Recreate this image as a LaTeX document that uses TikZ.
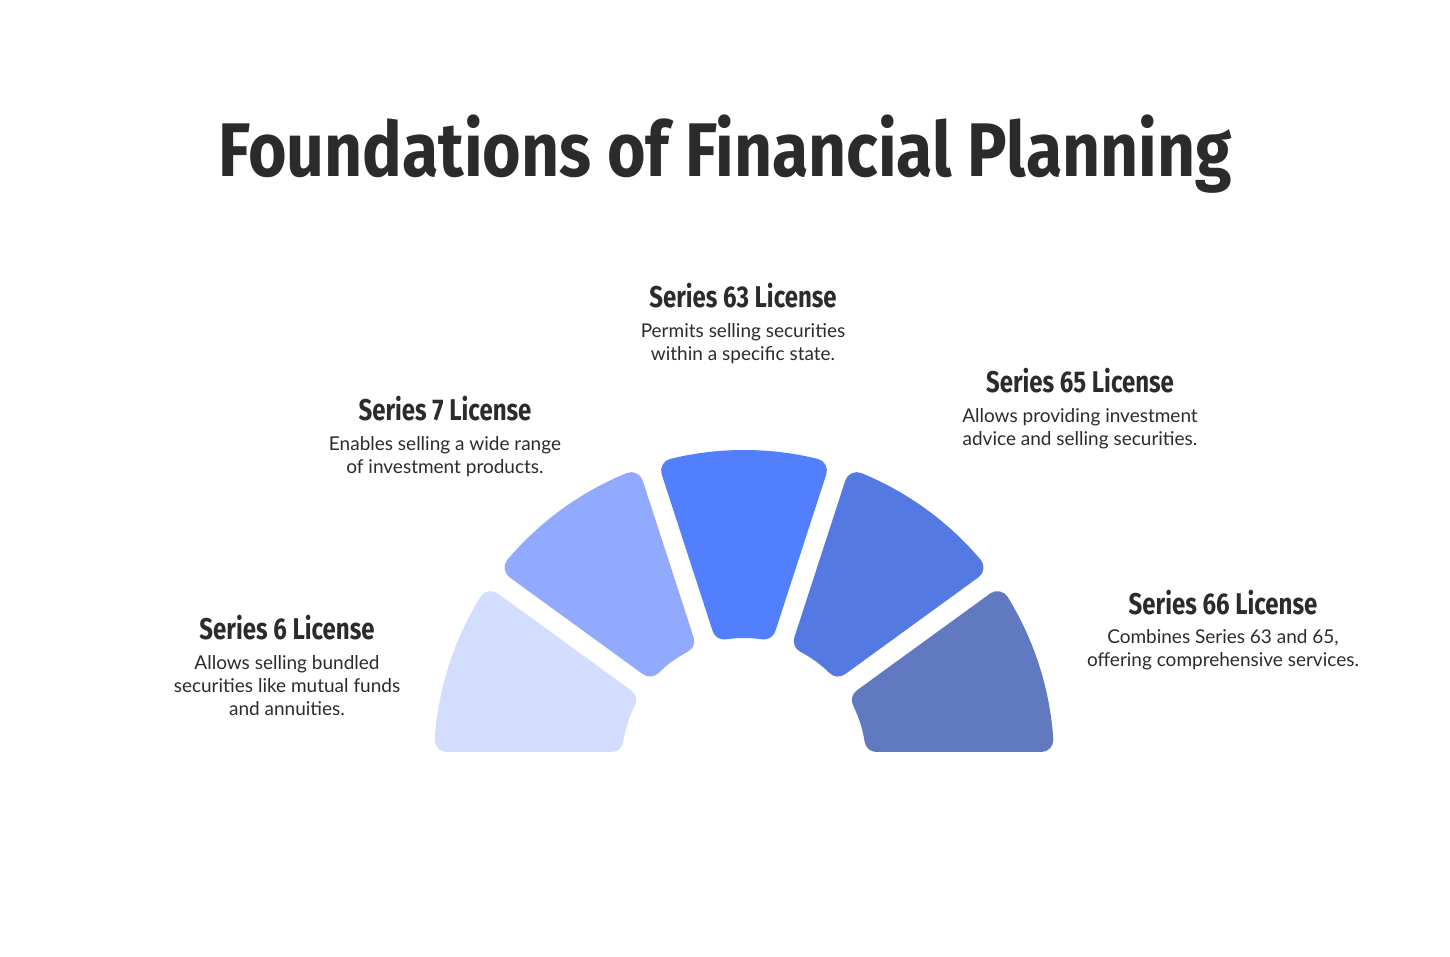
\documentclass[tikz,border=0pt]{standalone}
\usepackage{fontspec}
\setmainfont{Lato}
\newfontfamily\titulofonte{Fira Sans}
\usepackage{tikz}

\definecolor{texto}{HTML}{2B2B2B}
\definecolor{corA}{HTML}{D3DEFE}
\definecolor{corB}{HTML}{91AAFE}
\definecolor{corC}{HTML}{527FFE}
\definecolor{corD}{HTML}{5479E3}
\definecolor{corE}{HTML}{6079C1}

\tikzset{
  fatia/.style={line width=24pt, line join=round},
  titulo/.style={font=\titulofonte\bfseries\fontsize{30}{30}\selectfont, text=texto, xscale=0.8},
  corpo/.style={font=\fontsize{19}{23}\selectfont, text=texto, align=center},
}

% fatia do semicirculo: angulo inicial, angulo final, folga inicial, folga final, cor
\newcommand{\fatia}[5]{%
  \filldraw[fatia, fill=#5, draw=#5]
    ({#1+asin(#3/134)}:134) -- ({#1+asin(#3/298)}:298)
    arc[start angle={#1+asin(#3/298)}, end angle={#2-asin(#4/298)}, radius=298]
    -- ({#2-asin(#4/134)}:134)
    arc[start angle={#2-asin(#4/134)}, end angle={#1+asin(#3/134)}, radius=134] -- cycle;}

\begin{document}
\begin{tikzpicture}[x=1pt, y=1pt] %Desenho em pontos, origem no canto inferior esquerdo
	\useasboundingbox (0,0) rectangle (1450,957); %Moldura
		%Titulo
	\node[font=\titulofonte\bfseries\fontsize{76}{76}\selectfont, text=texto, xscale=0.87, anchor=base] (titulo) at (725,780) {Foundations of Financial Planning};
		%Fatias
	\begin{scope}[shift={(744,197)}]
		\fatia{0}{36}{20}{22}{corE} %Series 66
		\fatia{36}{72}{22}{22}{corD} %Series 65
		\fatia{72}{108}{22}{22}{corC} %Series 63
		\fatia{108}{144}{22}{22}{corB} %Series 7
		\fatia{144}{180}{22}{20}{corA} %Series 6
	\end{scope}
		%Textos
	\node[titulo] (s63) at (743,661) {Series 63 License};
	\node[corpo] (t63) at (743,613) {Permits selling securities\\within a specific state.};
	\node[titulo] (s7) at (445,548) {Series 7 License};
	\node[corpo] (t7) at (445,500) {Enables selling a wide range\\of investment products.};
	\node[titulo] (s65) at (1080,576) {Series 65 License};
	\node[corpo] (t65) at (1080,528) {Allows providing investment\\advice and selling securities.};
	\node[titulo] (s6) at (287,329) {Series 6 License};
	\node[corpo] (t6) at (287,271) {Allows selling bundled\\securities like mutual funds\\and annuities.};
	\node[titulo] (s66) at (1223,354) {Series 66 License};
	\node[corpo] (t66) at (1223,307) {Combines Series 63 and 65,\\offering comprehensive services.};
\end{tikzpicture}
\end{document}
